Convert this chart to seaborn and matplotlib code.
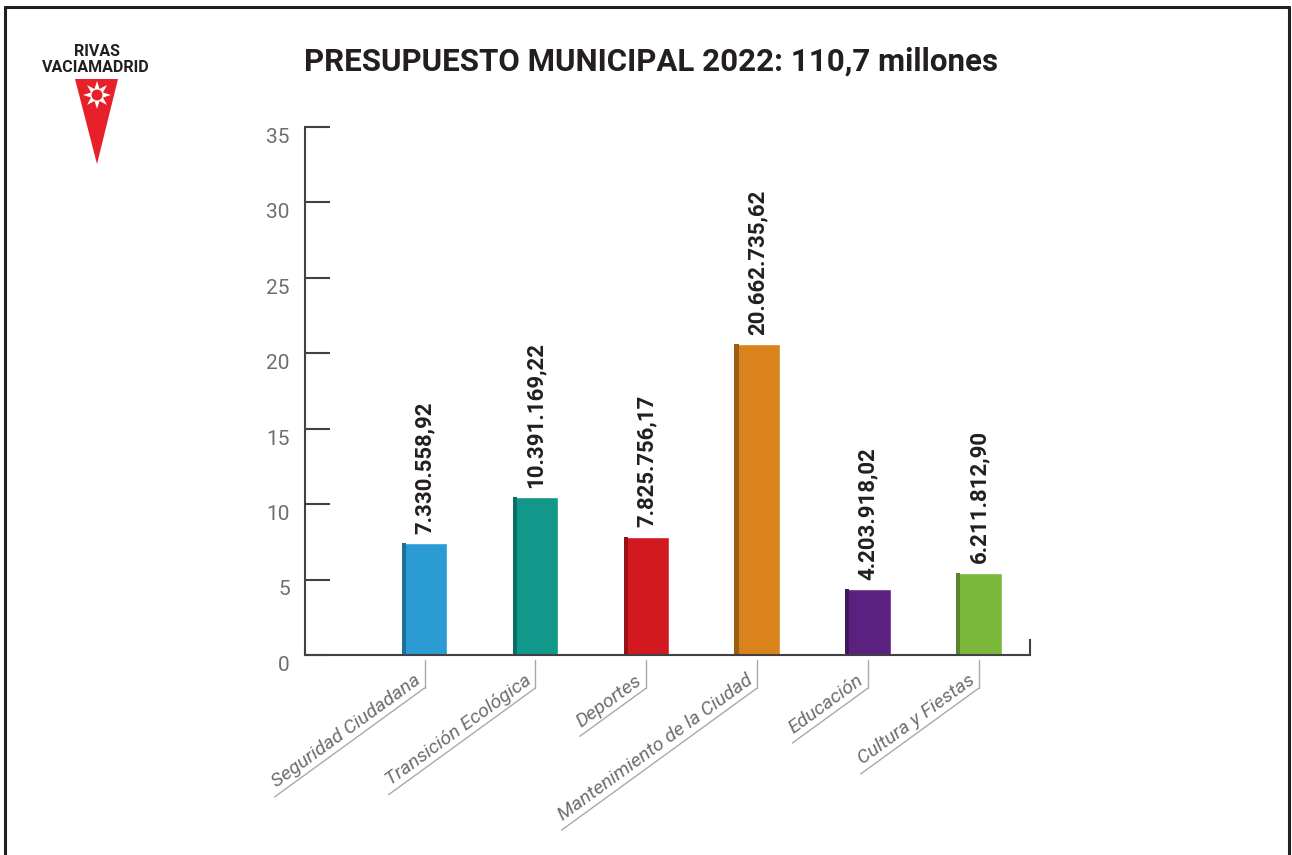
import numpy as np
import seaborn as sns
import matplotlib.pyplot as plt
import matplotlib.transforms as mtransforms
from matplotlib.patches import Polygon, Rectangle
from matplotlib.lines import Line2D
import matplotlib.colors as mcolors

# data (millions of euros, bar heights as drawn in the original)
categories = ["Seguridad Ciudadana", "Transición Ecológica", "Deportes",
              "Mantenimiento de la Ciudad", "Educación", "Cultura y Fiestas"]
heights = [7.4, 10.45, 7.85, 20.6, 4.35, 5.45]
value_labels = ["7.330.558,92", "10.391.169,22", "7.825.756,17",
                "20.662.735,62", "4.203.918,02", "6.211.812,90"]
colors = ["#2a9bd3", "#12978b", "#d2191f", "#da821c", "#5b2180", "#7ab73b"]
yticks = [0, 5, 10, 15, 20, 25, 30, 35]
title = "PRESUPUESTO MUNICIPAL 2022: 110,7 millones"

W, H = 1292, 855
sns.set_theme(style="white")
plt.rcParams["font.family"] = ["Roboto", "DejaVu Sans"]

fig = plt.figure(figsize=(W / 100, H / 100), dpi=100)
fig.patch.set_facecolor("white")


def px(x, y):
    # image pixel (y down) -> figure fraction
    return x / W, 1 - y / H


ax = fig.add_axes([305 / W, 1 - 655 / H, 725 / W, 528 / H])
sns.barplot(x=categories, y=heights, hue=categories, palette=colors,
            legend=False, width=0.41, saturation=1, ax=ax)
ax.set_xlim(-1.078, 5.46)
ax.set_ylim(0, 35)
ax.set_facecolor("white")

# darker left side to fake the 3D look
for patch in ax.patches[:len(heights)]:
    rgb = np.array(mcolors.to_rgb(patch.get_facecolor()))
    ax.add_patch(Rectangle((patch.get_x(), 0), patch.get_width() * 0.09,
                           patch.get_height(), color=rgb * 0.72, lw=0))

# value labels
for i, (h, lab) in enumerate(zip(heights, value_labels)):
    ax.annotate(lab, (i, h), xytext=(0, 7), textcoords="offset points",
                rotation=90, ha="center", va="bottom", fontsize=16,
                fontweight="bold", color="#231f20")

# axes styling
ax.spines["top"].set_visible(False)
for s in ["left", "bottom", "right"]:
    ax.spines[s].set_color("#414042")
    ax.spines[s].set_linewidth(1.5)
ax.spines["right"].set_bounds(0, 1)
ax.set_yticks(yticks)
ax.set_yticklabels([str(t) for t in yticks])
ax.tick_params(axis="y", left=True, direction="in", length=18, width=1.5,
               color="#414042", pad=11, labelsize=15, labelcolor="#6d6e71")
ax.tick_params(axis="x", length=0, labelbottom=False)
ax.set_xlabel("")
ax.set_ylabel("")
shift = mtransforms.ScaledTranslation(0, -6 / 72, fig.dpi_scale_trans)
for lbl in ax.get_yticklabels():
    lbl.set_transform(lbl.get_transform() + shift)

# category labels with leader lines and underline
fig.canvas.draw()
renderer = fig.canvas.get_renderer()
ang = np.deg2rad(36)
inv = fig.transFigure.inverted()
for i, cat in enumerate(categories):
    bx, by = ax.transData.transform((i, 0))
    top = (bx, by - 5)
    bot = (bx, by - 33)
    fig.add_artist(Line2D(*zip(inv.transform(top), inv.transform(bot)),
                          transform=fig.transFigure, color="#a7a9ac", lw=1))
    anchor = (bot[0] - 1, bot[1] + 2)
    t = fig.text(*inv.transform(anchor), cat, fontsize=14, color="#6d6e71",
                 ha="right", va="bottom", rotation=0, rotation_mode="anchor",
                 style="italic")
    w = t.get_window_extent(renderer).width + 6
    t.set_rotation(36)
    end = (bot[0] - w * np.cos(ang), bot[1] - w * np.sin(ang))
    fig.add_artist(Line2D(*zip(inv.transform(bot), inv.transform(end)),
                          transform=fig.transFigure, color="#a7a9ac", lw=1))

# title
fig.text(*px(651, 62), title, ha="center", va="center", fontsize=22.5,
         fontweight="bold", color="#231f20")

# logo
fig.text(*px(97, 52), "RIVAS", ha="center", va="center", fontsize=11.5,
         fontweight="bold", color="#231f20")
fig.text(*px(96, 68), "VACIAMADRID", ha="center", va="center", fontsize=11.5,
         fontweight="bold", color="#231f20")
fig.add_artist(Polygon([px(75, 79), px(118, 79), px(97, 164)], closed=True,
                       transform=fig.transFigure, color="#e8202a", lw=0))
cx, cy = 97, 95
star = []
for k in range(16):
    r = 14 if k % 2 == 0 else 6.5
    a = np.pi / 2 + k * np.pi / 8
    star.append(px(cx + r * np.cos(a), cy - r * np.sin(a)))
fig.add_artist(Polygon(star, closed=True, transform=fig.transFigure,
                       color="white", lw=0))
fig.add_artist(Polygon([px(cx + 5.5 * np.cos(a), cy - 5.5 * np.sin(a))
                        for a in np.linspace(0, 2 * np.pi, 30)], closed=True,
                       transform=fig.transFigure, color="#e8202a", lw=0))

# frame around the page
for xs, ys in [([5, 5], [7, 855]), ([5, 1289], [7, 7]), ([1289, 1289], [7, 855])]:
    p0, p1 = px(xs[0], ys[0]), px(xs[1], ys[1])
    fig.add_artist(Line2D([p0[0], p1[0]], [p0[1], p1[1]],
                          transform=fig.transFigure, color="#231f20", lw=2.2))

fig.savefig("out.png", dpi=100, facecolor="white")
